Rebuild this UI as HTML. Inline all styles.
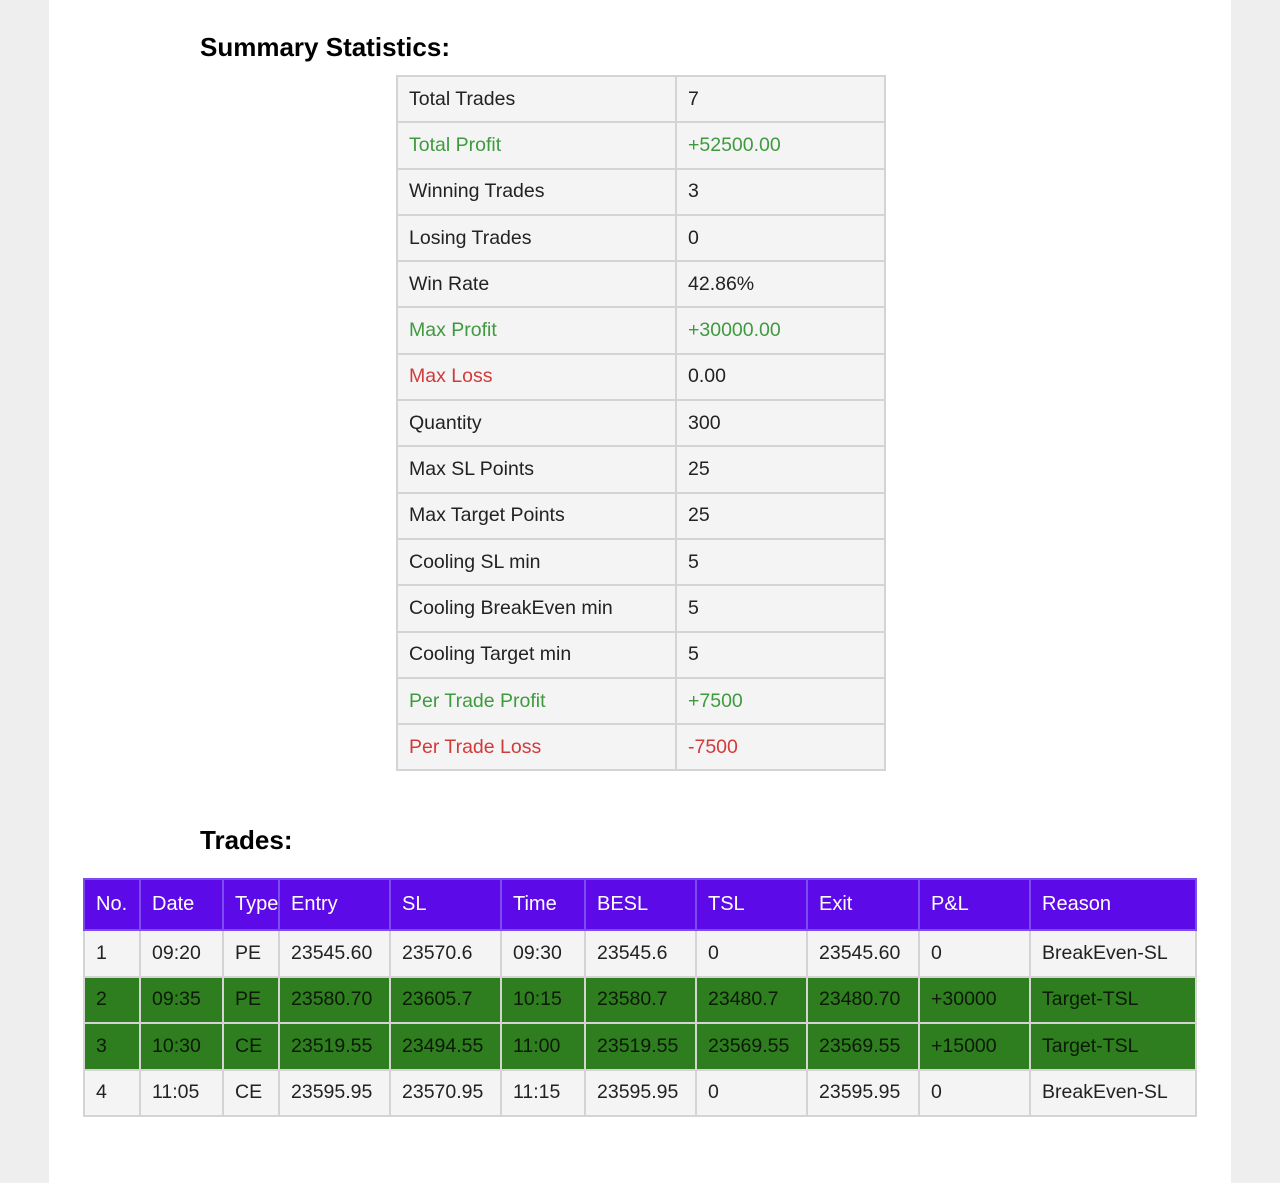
<!DOCTYPE html>
<html><head><style>
body{margin:0;width:1280px;height:1183px;background:#eeeeee;font-family:"Liberation Sans",sans-serif;position:relative;overflow:hidden}
.page{position:absolute;left:49px;top:0;width:1182px;height:1183px;background:#fff}
h2{position:absolute;margin:0;font-size:26px;font-weight:bold;color:#000}
table{position:absolute;border-collapse:collapse;table-layout:fixed}
td{border:2px solid #d4d4d4;padding:0 0 0 11px;font-size:19.5px;color:#222;white-space:nowrap;overflow:visible}
.s td{background:#f4f4f4;height:44.3px}
.g{color:#3f9a3f!important}.r{color:#d23a3a!important}
.t td{height:44.5px}
.t tr.h td{background:#5c0ae8;color:#fff;font-size:20px;height:49px;border-color:#7c4cf0}
.t tr.w td{background:#f4f4f4}
.t tr.gr td{background:#2e7d1e;color:#0c1a08}
</style></head><body>
<div class="page"></div>
<h2 style="left:200px;top:32px">Summary Statistics:</h2>
<table class="s" style="left:396px;top:75px;width:488px">
<col style="width:279px"><col style="width:209px">
<tr><td>Total Trades</td><td>7</td></tr>
<tr><td class="g">Total Profit</td><td class="g">+52500.00</td></tr>
<tr><td>Winning Trades</td><td>3</td></tr>
<tr><td>Losing Trades</td><td>0</td></tr>
<tr><td>Win Rate</td><td>42.86%</td></tr>
<tr><td class="g">Max Profit</td><td class="g">+30000.00</td></tr>
<tr><td class="r">Max Loss</td><td>0.00</td></tr>
<tr><td>Quantity</td><td>300</td></tr>
<tr><td>Max SL Points</td><td>25</td></tr>
<tr><td>Max Target Points</td><td>25</td></tr>
<tr><td>Cooling SL min</td><td>5</td></tr>
<tr><td>Cooling BreakEven min</td><td>5</td></tr>
<tr><td>Cooling Target min</td><td>5</td></tr>
<tr><td class="g">Per Trade Profit</td><td class="g">+7500</td></tr>
<tr><td class="r">Per Trade Loss</td><td class="r">-7500</td></tr>
</table>
<h2 style="left:200px;top:825px">Trades:</h2>
<table class="t" style="left:83px;top:878px;width:1112px">
<col style="width:56px"><col style="width:83px"><col style="width:56px"><col style="width:111px"><col style="width:111px"><col style="width:84px"><col style="width:111px"><col style="width:111px"><col style="width:112px"><col style="width:111px"><col style="width:166px">
<tr class="h"><td>No.</td><td>Date</td><td>Type</td><td>Entry</td><td>SL</td><td>Time</td><td>BESL</td><td>TSL</td><td>Exit</td><td>P&amp;L</td><td>Reason</td></tr>
<tr class="w"><td>1</td><td>09:20</td><td>PE</td><td>23545.60</td><td>23570.6</td><td>09:30</td><td>23545.6</td><td>0</td><td>23545.60</td><td>0</td><td>BreakEven-SL</td></tr>
<tr class="gr"><td>2</td><td>09:35</td><td>PE</td><td>23580.70</td><td>23605.7</td><td>10:15</td><td>23580.7</td><td>23480.7</td><td>23480.70</td><td>+30000</td><td>Target-TSL</td></tr>
<tr class="gr"><td>3</td><td>10:30</td><td>CE</td><td>23519.55</td><td>23494.55</td><td>11:00</td><td>23519.55</td><td>23569.55</td><td>23569.55</td><td>+15000</td><td>Target-TSL</td></tr>
<tr class="w"><td>4</td><td>11:05</td><td>CE</td><td>23595.95</td><td>23570.95</td><td>11:15</td><td>23595.95</td><td>0</td><td>23595.95</td><td>0</td><td>BreakEven-SL</td></tr>
</table>
</body></html>
